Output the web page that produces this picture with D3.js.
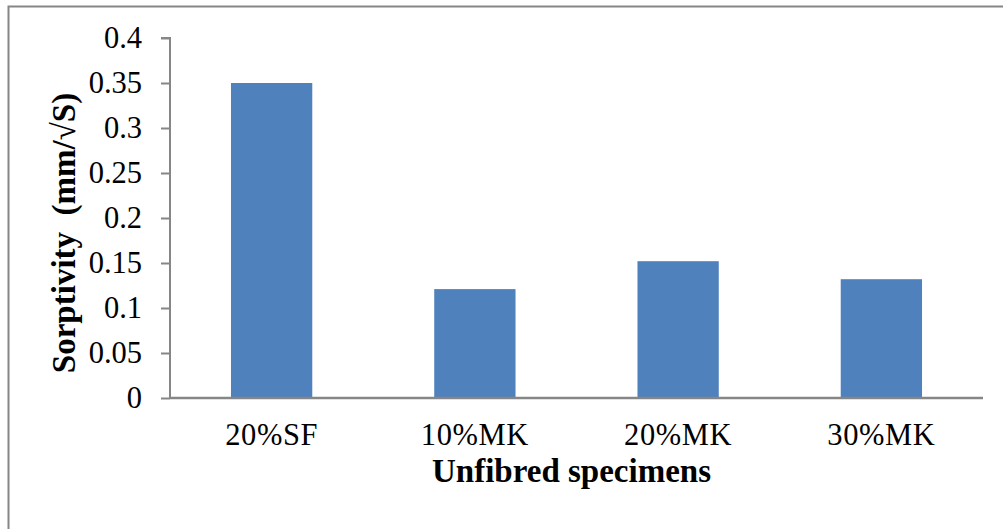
<!DOCTYPE html>
<html>
<head>
<meta charset="utf-8">
<script src="https://cdn.jsdelivr.net/npm/d3@7"></script>
<style>
  html, body { margin: 0; padding: 0; background: #fff; }
  svg { display: block; }
  text { font-family: "Liberation Serif", "Times New Roman", serif; fill: #000; }
</style>
</head>
<body>
<svg id="chart" width="1003" height="529"></svg>
<script>
// Sorptivity of unfibred specimens
const categories = ["20%SF", "10%MK", "20%MK", "30%MK"];
const sorptivity = [0.35, 0.121, 0.152, 0.132];
const yTicks = [0, 0.05, 0.1, 0.15, 0.2, 0.25, 0.3, 0.35, 0.4];
const yTickLabels = ["0", "0.05", "0.1", "0.15", "0.2", "0.25", "0.3", "0.35", "0.4"];

const svg = d3.select("#chart");
const W = 1003, H = 529;
const plot = { left: 170, right: 983, top: 38, bottom: 398 };
const axisColor = "#868686";

// outer chart-area frame (runs off the right and bottom edges)
svg.append("rect")
  .attr("x", 8.5).attr("y", 6.5)
  .attr("width", W + 20).attr("height", H + 20)
  .attr("fill", "#fff")
  .attr("stroke", axisColor)
  .attr("stroke-width", 2);

const x = d3.scaleBand()
  .domain(categories)
  .range([plot.left, plot.right])
  .paddingInner(0.6)
  .paddingOuter(0.3);

const y = d3.scaleLinear()
  .domain([0, 0.4])
  .range([plot.bottom, plot.top]);

// bars
svg.append("g").selectAll("rect")
  .data(categories.map((c, i) => ({ c, v: sorptivity[i] })))
  .join("rect")
  .attr("x", d => x(d.c))
  .attr("y", d => y(d.v))
  .attr("width", x.bandwidth())
  .attr("height", d => y(0) - y(d.v))
  .attr("fill", "#4F81BD");

// y axis
const yAxis = d3.axisLeft(y)
  .tickValues(yTicks)
  .tickFormat((d, i) => yTickLabels[i])
  .tickSize(9)
  .tickPadding(19);
const gy = svg.append("g")
  .attr("transform", `translate(${plot.left},0)`)
  .call(yAxis);
gy.select(".domain").attr("stroke", axisColor).attr("stroke-width", 2)
  .attr("d", `M-9,${plot.top}H0V${plot.bottom}`);
gy.selectAll(".tick line").attr("stroke", axisColor).attr("stroke-width", 2);
gy.selectAll(".tick text")
  .attr("font-size", 30.5)
  .attr("fill", "#000");

// x axis
const xAxis = d3.axisBottom(x).tickSize(0).tickPadding(0);
const gx = svg.append("g")
  .attr("transform", `translate(0,${plot.bottom})`)
  .call(xAxis);
gx.select(".domain").attr("stroke", axisColor).attr("stroke-width", 2.5)
  .attr("d", `M${plot.left},0H${plot.right}`);
gx.selectAll(".tick text")
  .attr("font-size", 30.5)
  .attr("letter-spacing", 0.6)
  .attr("fill", "#000")
  .attr("y", 47)
  .attr("dy", 0);

// axis titles
svg.append("text")
  .attr("x", 571.5)
  .attr("y", 482)
  .attr("text-anchor", "middle")
  .attr("font-size", 33)
  .attr("font-weight", "bold")
  .text("Unfibred specimens");

svg.append("text")
  .attr("transform", `translate(75,233) rotate(-90)`)
  .attr("text-anchor", "middle")
  .attr("font-size", 33)
  .attr("font-weight", "bold")
  .attr("xml:space", "preserve")
  .style("white-space", "pre")
  .text("Sorptivity  (mm/√S)");
</script>
</body>
</html>
